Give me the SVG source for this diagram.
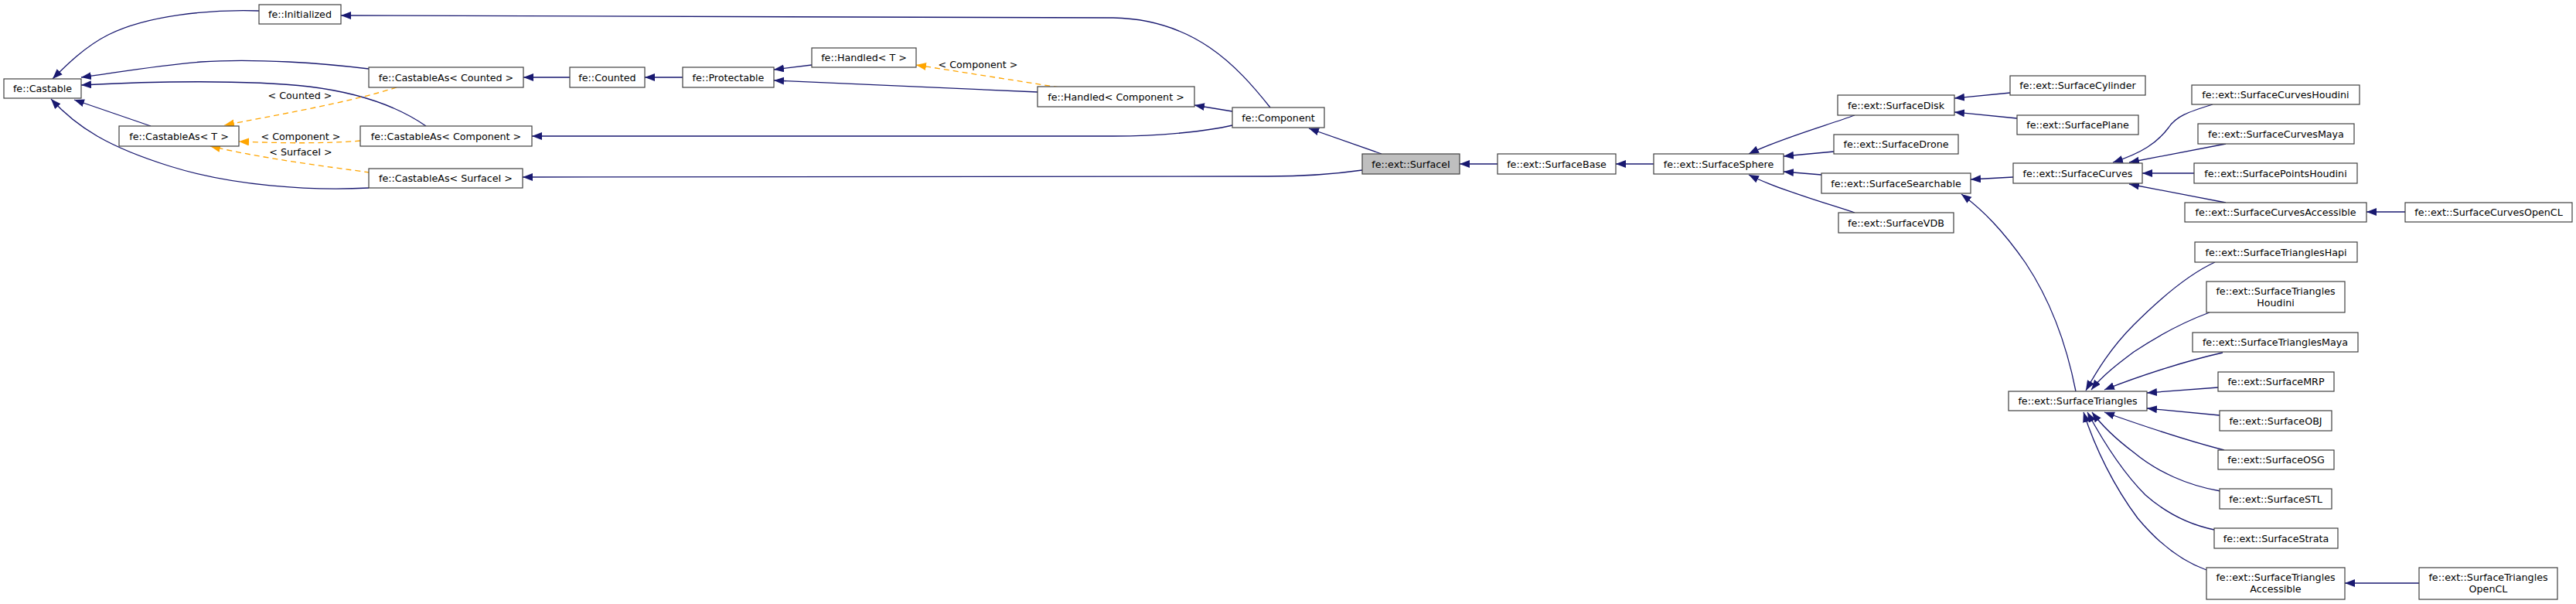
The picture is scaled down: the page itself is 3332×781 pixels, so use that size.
<svg xmlns="http://www.w3.org/2000/svg" width="3332" height="781" viewBox="0 0 3332 781">
<style>
.n rect{fill:#fff;stroke:#404040;stroke-width:1.2}
.sel rect{fill:#bfbfbf}
text{font-family:"DejaVu Sans","Liberation Sans",sans-serif;font-size:12.7px;text-anchor:middle;fill:#000}
.e{fill:none;stroke:#191970;stroke-width:1.3;marker-end:url(#ab)}
.t{fill:none;stroke:#ffa500;stroke-width:1.3;stroke-dasharray:7,5;marker-end:url(#ao)}
</style>
<defs>
<marker id="ab" markerUnits="userSpaceOnUse" markerWidth="14" markerHeight="11" refX="13" refY="5" orient="auto"><path d="M0,0 L13,5 L0,10 z" fill="#191970"/></marker>
<marker id="ao" markerUnits="userSpaceOnUse" markerWidth="14" markerHeight="11" refX="13" refY="5" orient="auto"><path d="M0,0 L13,5 L0,10 z" fill="#ffa500"/></marker>
</defs>
<rect width="3332" height="781" fill="#fff"/>
<g id="edges">
<path class="e" d="M335,14 C270,12 190,20 140,45 C110,60 85,85 68,102"/>
<path class="e" d="M1643,139 C1600,85 1545,25 1440,23 L441,20"/>
<path class="e" d="M477,89 C420,82 330,75 260,80 C200,85 150,94 105,100"/>
<path class="e" d="M551,163 C515,138 465,120 400,112 C320,103 200,105 105,110"/>
<path class="e" d="M195,163 L96,129"/>
<path class="e" d="M477,243 C400,247 300,240 220,215 C140,190 100,165 66,128"/>
<path class="t" d="M513,113 C450,133 350,150 290,162"/>
<path class="t" d="M466,182 C420,186 360,185 309,183"/>
<path class="t" d="M478,223 C420,215 340,205 272,189"/>
<path class="e" d="M737,100 L677,100"/>
<path class="e" d="M883,100 L834,100"/>
<path class="e" d="M1050,84 L1001,90"/>
<path class="e" d="M1342,119 L1001,104"/>
<path class="t" d="M1370,113 L1185,84"/>
<path class="e" d="M1594,144 L1545,136"/>
<path class="e" d="M1594,162 C1560,170 1500,176 1440,176 L688,176"/>
<path class="e" d="M1762,220 C1720,226 1680,228 1640,228 L676,229"/>
<path class="e" d="M1787,199 L1693,166"/>
<path class="e" d="M1937,212 L1888,212"/>
<path class="e" d="M2139,212 L2090,212"/>
<path class="e" d="M2399,149 C2360,163 2300,180 2262,199"/>
<path class="e" d="M2372,196 L2307,202"/>
<path class="e" d="M2356,226 L2307,222"/>
<path class="e" d="M2399,275 C2360,262 2300,245 2262,226"/>
<path class="e" d="M2600,120 L2528,127"/>
<path class="e" d="M2609,153 L2528,145"/>
<path class="e" d="M2604,229 L2549,232"/>
<path class="e" d="M2685,506 C2672,440 2650,385 2620,340 C2590,297 2565,272 2537,251"/>
<path class="e" d="M2862,135 C2830,145 2815,150 2805,165 C2790,185 2770,198 2733,210"/>
<path class="e" d="M2879,186 L2754,210"/>
<path class="e" d="M2838,224 L2771,224"/>
<path class="e" d="M2879,262 L2754,238"/>
<path class="e" d="M3111,274 L3061,274"/>
<path class="e" d="M2865,339 C2830,355 2790,390 2760,420 C2730,450 2712,480 2698,505"/>
<path class="e" d="M2858,404 C2820,418 2790,435 2760,455 C2740,470 2720,485 2705,504"/>
<path class="e" d="M2875,456 C2830,466 2770,485 2722,504"/>
<path class="e" d="M2869,501 L2777,508"/>
<path class="e" d="M2871,537 L2777,528"/>
<path class="e" d="M2877,582 C2830,570 2770,550 2722,533"/>
<path class="e" d="M2872,635 C2830,628 2790,610 2760,585 C2740,570 2720,552 2706,533"/>
<path class="e" d="M2864,685 C2830,678 2800,662 2775,640 C2745,610 2720,570 2700,533"/>
<path class="e" d="M2854,737 C2820,725 2790,700 2765,670 C2735,630 2710,580 2695,533"/>
<path class="e" d="M3129,754 L3033,754"/>
<text x="388" y="127.5">&lt; Counted &gt;</text>
<text x="389" y="180.5">&lt; Component &gt;</text>
<text x="389" y="200.5">&lt; SurfaceI &gt;</text>
<text x="1265" y="87.5">&lt; Component &gt;</text>
</g>
<g id="n_castable" class="n"><rect x="5" y="102" width="100" height="25"/><text x="55" y="119">fe::Castable</text></g>
<g id="n_castableT" class="n"><rect x="154" y="163" width="155" height="26"/><text x="231.5" y="180.5">fe::CastableAs&lt; T &gt;</text></g>
<g id="n_initialized" class="n"><rect x="335" y="6" width="106" height="25"/><text x="388" y="23">fe::Initialized</text></g>
<g id="n_castableCounted" class="n"><rect x="477" y="87" width="200" height="26"/><text x="577" y="104.5">fe::CastableAs&lt; Counted &gt;</text></g>
<g id="n_castableComponent" class="n"><rect x="466" y="163" width="222" height="26"/><text x="577" y="180.5">fe::CastableAs&lt; Component &gt;</text></g>
<g id="n_castableSurfaceI" class="n"><rect x="477" y="218" width="199" height="25"/><text x="576.5" y="235">fe::CastableAs&lt; SurfaceI &gt;</text></g>
<g id="n_counted" class="n"><rect x="737" y="87" width="97" height="26"/><text x="785.5" y="104.5">fe::Counted</text></g>
<g id="n_protectable" class="n"><rect x="883" y="87" width="118" height="26"/><text x="942" y="104.5">fe::Protectable</text></g>
<g id="n_handledT" class="n"><rect x="1050" y="62" width="135" height="25"/><text x="1117.5" y="79">fe::Handled&lt; T &gt;</text></g>
<g id="n_handledComponent" class="n"><rect x="1342" y="112" width="203" height="26"/><text x="1443.5" y="129.5">fe::Handled&lt; Component &gt;</text></g>
<g id="n_component" class="n"><rect x="1594" y="139" width="119" height="26"/><text x="1653.5" y="156.5">fe::Component</text></g>
<g id="n_surfaceI" class="n sel"><rect x="1762" y="199" width="126" height="26"/><text x="1825" y="216.5">fe::ext::SurfaceI</text></g>
<g id="n_surfaceBase" class="n"><rect x="1937" y="199" width="153" height="26"/><text x="2013.5" y="216.5">fe::ext::SurfaceBase</text></g>
<g id="n_surfaceSphere" class="n"><rect x="2139" y="199" width="168" height="26"/><text x="2223" y="216.5">fe::ext::SurfaceSphere</text></g>
<g id="n_surfaceDisk" class="n"><rect x="2377" y="123" width="151" height="26"/><text x="2452.5" y="140.5">fe::ext::SurfaceDisk</text></g>
<g id="n_surfaceDrone" class="n"><rect x="2372" y="174" width="161" height="25"/><text x="2452.5" y="191">fe::ext::SurfaceDrone</text></g>
<g id="n_surfaceSearchable" class="n"><rect x="2356" y="224" width="193" height="26"/><text x="2452.5" y="241.5">fe::ext::SurfaceSearchable</text></g>
<g id="n_surfaceVDB" class="n"><rect x="2378" y="275" width="149" height="26"/><text x="2452.5" y="292.5">fe::ext::SurfaceVDB</text></g>
<g id="n_surfaceCylinder" class="n"><rect x="2600" y="98" width="175" height="25"/><text x="2687.5" y="115">fe::ext::SurfaceCylinder</text></g>
<g id="n_surfacePlane" class="n"><rect x="2609" y="149" width="157" height="25"/><text x="2687.5" y="166">fe::ext::SurfacePlane</text></g>
<g id="n_surfaceCurves" class="n"><rect x="2604" y="211" width="167" height="26"/><text x="2687.5" y="228.5">fe::ext::SurfaceCurves</text></g>
<g id="n_curvesHoudini" class="n"><rect x="2835" y="110" width="217" height="25"/><text x="2943.5" y="127">fe::ext::SurfaceCurvesHoudini</text></g>
<g id="n_curvesMaya" class="n"><rect x="2843" y="160" width="202" height="26"/><text x="2944" y="177.5">fe::ext::SurfaceCurvesMaya</text></g>
<g id="n_pointsHoudini" class="n"><rect x="2838" y="211" width="211" height="26"/><text x="2943.5" y="228.5">fe::ext::SurfacePointsHoudini</text></g>
<g id="n_curvesAccessible" class="n"><rect x="2826" y="262" width="235" height="25"/><text x="2943.5" y="279">fe::ext::SurfaceCurvesAccessible</text></g>
<g id="n_curvesOpenCL" class="n"><rect x="3111" y="262" width="216" height="25"/><text x="3219" y="279">fe::ext::SurfaceCurvesOpenCL</text></g>
<g id="n_trianglesHapi" class="n"><rect x="2839" y="313" width="210" height="26"/><text x="2944" y="330.5">fe::ext::SurfaceTrianglesHapi</text></g>
<g id="n_trianglesHoudini" class="n"><rect x="2854" y="364" width="179" height="40"/><text x="2943.5" y="380.5">fe::ext::SurfaceTriangles</text><text x="2943.5" y="395.5">Houdini</text></g>
<g id="n_trianglesMaya" class="n"><rect x="2836" y="430" width="214" height="25"/><text x="2943" y="447">fe::ext::SurfaceTrianglesMaya</text></g>
<g id="n_surfaceTriangles" class="n"><rect x="2598" y="506" width="179" height="25"/><text x="2687.5" y="523">fe::ext::SurfaceTriangles</text></g>
<g id="n_mrp" class="n"><rect x="2869" y="481" width="150" height="25"/><text x="2944" y="498">fe::ext::SurfaceMRP</text></g>
<g id="n_obj" class="n"><rect x="2871" y="531" width="145" height="26"/><text x="2943.5" y="548.5">fe::ext::SurfaceOBJ</text></g>
<g id="n_osg" class="n"><rect x="2869" y="582" width="150" height="25"/><text x="2944" y="599">fe::ext::SurfaceOSG</text></g>
<g id="n_stl" class="n"><rect x="2871" y="632" width="145" height="26"/><text x="2943.5" y="649.5">fe::ext::SurfaceSTL</text></g>
<g id="n_strata" class="n"><rect x="2864" y="683" width="160" height="26"/><text x="2944" y="700.5">fe::ext::SurfaceStrata</text></g>
<g id="n_trianglesAccessible" class="n"><rect x="2854" y="734" width="179" height="41"/><text x="2943.5" y="750.5">fe::ext::SurfaceTriangles</text><text x="2943.5" y="765.5">Accessible</text></g>
<g id="n_trianglesOpenCL" class="n"><rect x="3129" y="734" width="179" height="41"/><text x="3218.5" y="750.5">fe::ext::SurfaceTriangles</text><text x="3218.5" y="765.5">OpenCL</text></g>
</svg>
